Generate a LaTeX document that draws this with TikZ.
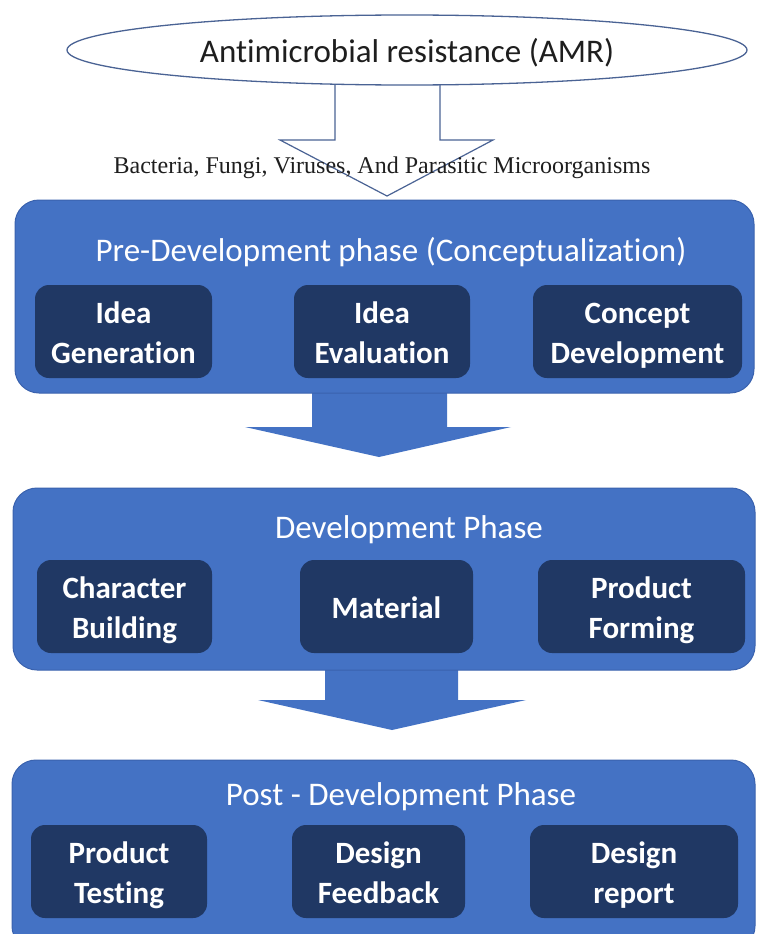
\documentclass[tikz,border=0pt]{standalone}
\usepackage{fontspec}
\setmainfont{Carlito}[Ligatures=NoCommon]
\newfontfamily\serifface{Liberation Serif}
\usetikzlibrary{shapes.geometric,calc}
\definecolor{phaseblue}{HTML}{4472C4}
\definecolor{phaseedge}{HTML}{3A62AE}
\definecolor{stepnavy}{HTML}{203864}
\definecolor{outlineblue}{HTML}{4A6394}
\definecolor{inktext}{HTML}{1E1E1E}
% fixed line box so every step label sits at the same height
\newcommand\lineprop{\rule[-8.5pt]{0pt}{40.5pt}}

\begin{document}
\begin{tikzpicture}[x=1pt,y=-1pt,
  phase/.style={draw=phaseedge, line width=1pt, fill=phaseblue,
    rounded corners=24pt, inner sep=0, rectangle},
  stepbox/.style={fill=stepnavy, rounded corners=14pt, text=white,
    align=center, inner sep=0, minimum height=93pt,
    font=\fontsize{31}{40.5}\selectfont\bfseries},
  phasetitle/.style={text=white, inner sep=0,
    font=\fontsize{33}{40}\selectfont},
  bigarrow/.style={fill=phaseblue, draw=none},
  hollowarrow/.style={draw=outlineblue, line width=1.2pt, line join=miter},
]
\useasboundingbox (0,0) rectangle (756,934);
\clip (0,0) rectangle (756,934);
\fill[white] (0,0) rectangle (756,934);

% top ellipse and its label
\node[ellipse, draw=outlineblue, line width=1.3pt, fill=white,
      minimum width=680pt, minimum height=70pt, inner sep=0] (amr) at (407,50) {};
\node[text=inktext, inner sep=0, font=\fontsize{33}{40}\selectfont]
      (amrlabel) at (407,53) {Antimicrobial resistance (AMR)};

% open arrow from the ellipse to the first phase
\coordinate (hl) at (335,84.2);
\coordinate (hr) at (440,84.8);
\coordinate (htip) at (387,196);
\draw[hollowarrow] (hl) -- (hl |- 0,140) -- (280,140) -- (htip)
  -- (493,140) -- (hr |- 0,140) -- (hr);

\node[text=inktext, inner sep=0, font=\serifface\fontsize{24}{28}\selectfont]
  (microbes) at (382,168) {Bacteria, Fungi, Viruses, And Parasitic Microorganisms};

% solid arrows between the phases
\coordinate (a1) at (379,457);
\fill[bigarrow] (312,390) -- (312,427) -- (245,427) -- (a1) -- (511,427)
  -- (447,427) -- (447,390) -- cycle;
\coordinate (a2) at (392,730);
\fill[bigarrow] (325,667) -- (325,700) -- (258,700) -- (a2) -- (526,700)
  -- (458,700) -- (458,667) -- cycle;

% phase panels
\node[phase, minimum width=739pt, minimum height=193pt] (pre) at (384.5,296.5) {};
\node[phase, minimum width=742pt, minimum height=182pt] (dev) at (384,579) {};
\node[phase, minimum width=743pt, minimum height=190pt] (post) at (383.5,855) {};

% phase titles
\node[phasetitle] (pretitle) at (391,252) {Pre-Development phase (Conceptualization)};
\node[phasetitle] (devtitle) at (409,530) {Development Phase};
\node[phasetitle] (posttitle) at (401,797) {Post - Development Phase};

% steps of the pre-development phase
\node[stepbox, minimum width=177pt] (idgen) at (123.5,331.5) {Idea\lineprop\\Generation\lineprop};
\node[stepbox, minimum width=176pt] (ideval) at (382,331.5) {Idea\lineprop\\Evaluation\lineprop};
\node[stepbox, minimum width=209pt] (concept) at (637.5,331.5) {Concept\lineprop\\Development\lineprop};

% steps of the development phase
\node[stepbox, minimum width=175pt] (charb) at (124.5,606.5) {Character\lineprop\\Building\lineprop};
\node[stepbox, minimum width=173pt] (material) at (386.5,606.5) {Material\lineprop};
\node[stepbox, minimum width=207pt] (prodform) at (641.5,606.5) {Product\lineprop\\Forming\lineprop};

% steps of the post-development phase
\node[stepbox, minimum width=176pt] (prodtest) at (119,871.5) {Product\lineprop\\Testing\lineprop};
\node[stepbox, minimum width=173pt] (dfeed) at (378.5,871.5) {Design\lineprop\\Feedback\lineprop};
\node[stepbox, minimum width=208pt] (dreport) at (634,871.5) {Design\lineprop\\report\lineprop};
\end{tikzpicture}
\end{document}
